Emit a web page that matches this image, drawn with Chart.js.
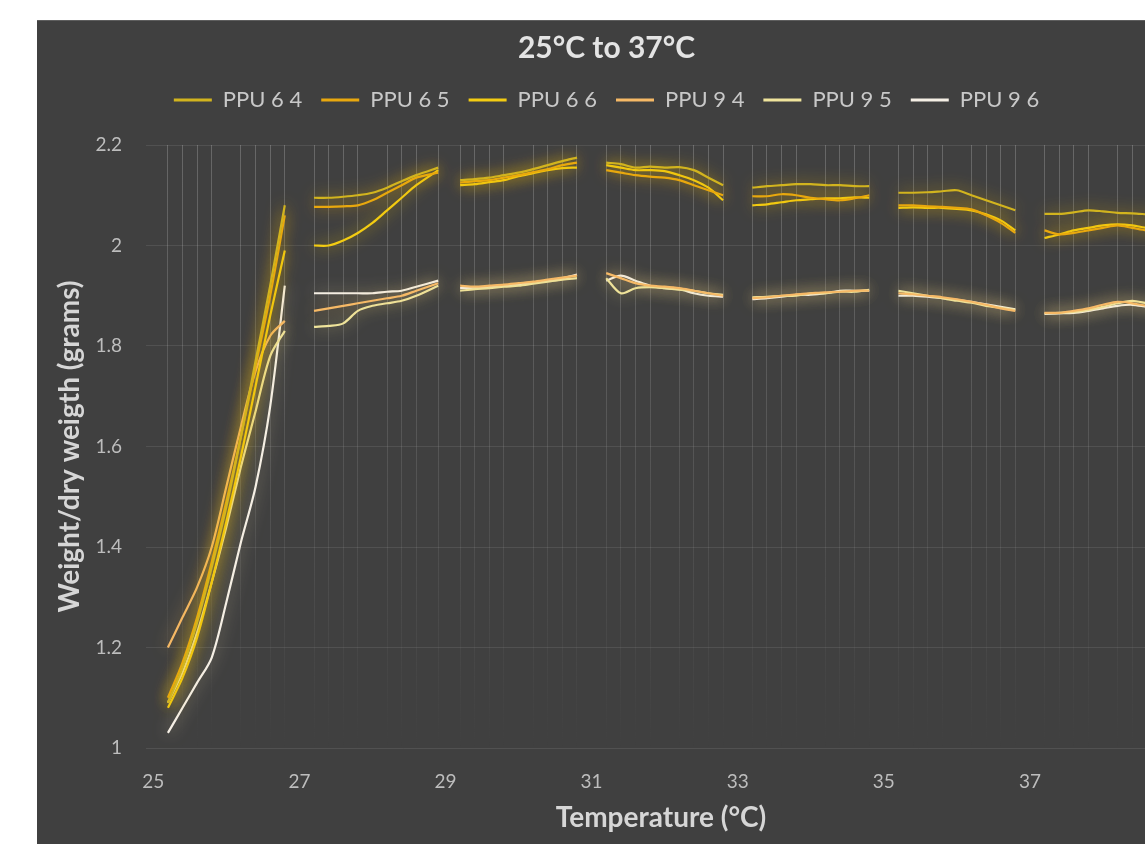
<!DOCTYPE html>
<html><head><meta charset="utf-8">
<script src="https://cdn.jsdelivr.net/npm/chart.js@4"></script>
<style>
html,body{margin:0;padding:0;background:#fff;overflow:hidden;width:1145px;height:844px;}
#wrap{position:absolute;left:37px;top:20px;width:1148px;height:830px;background:#404040;}
#topline{position:absolute;left:37px;top:20px;width:1148px;height:1px;background:#5e5e5e;z-index:2;}
canvas{display:block;}
</style></head><body>
<div id="wrap"><canvas id="c" width="1148" height="830"></canvas></div>
<div id="topline"></div>
<script>
const chartTitle = '25\u00B0C to 37\u00B0C';
const xTitle = 'Temperature (\u00B0C)';
const yTitle = 'Weight/dry weigth (grams)';
const seriesNames = ['PPU 6 4','PPU 6 5','PPU 6 6','PPU 9 4','PPU 9 5','PPU 9 6'];
const xTickLabels = [25,27,29,31,33,35,37];

const temps = [
25.2,25.4,25.6,25.8,26.0,26.2,26.4,26.6,26.8,
27.2,27.4,27.6,27.8,28.0,28.2,28.4,28.6,28.9,
29.2,29.4,29.6,29.8,30.0,30.2,30.4,30.6,30.8,
31.2,31.4,31.6,31.8,32.0,32.2,32.4,32.6,32.8,
33.2,33.4,33.6,33.8,34.0,34.2,34.4,34.6,34.8,
35.2,35.4,35.6,35.8,36.0,36.2,36.4,36.6,36.8,
37.2,37.4,37.6,37.8,38.0,38.2,38.4,38.6,38.8];

const ppu64 = [
1.09,1.16,1.25,1.36,1.48,1.62,1.77,1.92,2.08,
2.095,2.095,2.097,2.10,2.105,2.115,2.128,2.14,2.155,
2.13,2.132,2.135,2.14,2.145,2.152,2.16,2.168,2.175,
2.165,2.162,2.155,2.157,2.155,2.156,2.15,2.135,2.12,
2.115,2.118,2.12,2.122,2.122,2.12,2.12,2.118,2.118,
2.105,2.105,2.106,2.108,2.11,2.10,2.09,2.08,2.07,
2.063,2.063,2.066,2.07,2.068,2.065,2.064,2.062,2.06];
const ppu65 = [
1.10,1.17,1.26,1.37,1.49,1.62,1.76,1.90,2.06,
2.077,2.077,2.078,2.08,2.09,2.105,2.12,2.135,2.145,
2.125,2.128,2.13,2.135,2.14,2.146,2.152,2.16,2.165,
2.15,2.145,2.14,2.137,2.135,2.13,2.12,2.11,2.10,
2.098,2.098,2.102,2.10,2.095,2.092,2.09,2.094,2.10,
2.08,2.08,2.078,2.077,2.075,2.072,2.06,2.045,2.025,
2.03,2.022,2.025,2.03,2.035,2.04,2.035,2.03,2.03];
const ppu66 = [
1.08,1.14,1.22,1.33,1.45,1.58,1.72,1.86,1.99,
2.00,2.00,2.01,2.025,2.045,2.07,2.095,2.12,2.15,
2.12,2.122,2.126,2.13,2.138,2.144,2.15,2.154,2.155,
2.16,2.155,2.15,2.15,2.148,2.14,2.13,2.115,2.09,
2.08,2.082,2.086,2.09,2.092,2.094,2.094,2.096,2.095,
2.075,2.076,2.075,2.075,2.073,2.07,2.062,2.05,2.03,
2.015,2.022,2.03,2.035,2.04,2.042,2.04,2.035,2.032];
const ppu94 = [
1.20,1.26,1.32,1.40,1.52,1.64,1.75,1.82,1.85,
1.87,1.875,1.88,1.885,1.89,1.895,1.90,1.91,1.925,
1.92,1.918,1.92,1.922,1.925,1.928,1.932,1.936,1.94,
1.945,1.935,1.925,1.92,1.918,1.915,1.91,1.905,1.90,
1.895,1.897,1.90,1.903,1.905,1.907,1.908,1.91,1.91,
1.905,1.903,1.90,1.897,1.893,1.888,1.882,1.875,1.87,
1.866,1.866,1.87,1.875,1.882,1.888,1.885,1.88,1.878];
const ppu95 = [
1.09,1.15,1.23,1.33,1.44,1.56,1.67,1.78,1.83,
1.838,1.84,1.845,1.87,1.88,1.885,1.89,1.90,1.92,
1.91,1.913,1.915,1.918,1.92,1.924,1.928,1.932,1.935,
1.935,1.905,1.915,1.917,1.915,1.912,1.91,1.905,1.902,
1.897,1.898,1.90,1.90,1.905,1.905,1.908,1.908,1.912,
1.91,1.905,1.90,1.895,1.89,1.886,1.88,1.876,1.872,
1.865,1.866,1.868,1.872,1.878,1.885,1.89,1.885,1.88];
const ppu96 = [
1.03,1.08,1.13,1.18,1.29,1.41,1.52,1.68,1.92,
1.905,1.905,1.905,1.905,1.905,1.908,1.91,1.918,1.93,
1.915,1.916,1.918,1.92,1.922,1.926,1.93,1.935,1.942,
1.93,1.94,1.93,1.92,1.915,1.913,1.905,1.90,1.898,
1.893,1.895,1.898,1.902,1.902,1.905,1.91,1.91,1.91,
1.90,1.90,1.898,1.895,1.892,1.888,1.883,1.878,1.873,
1.864,1.865,1.866,1.87,1.875,1.88,1.882,1.878,1.875];

const seriesValues = [ppu64, ppu65, ppu66, ppu94, ppu95, ppu96];
const lineColors = ['#d2b41e','#e9a80e','#f3cc12','#f6b966','#efe49c','#f5efe5'];
const glowColors = ['rgba(235,185,0,0.85)','rgba(235,170,0,0.85)','rgba(240,200,0,0.85)',
                    'rgba(240,190,90,0.7)','rgba(240,225,140,0.7)','rgba(240,225,170,0.65)'];

function toPoints(vals){
  const pts = [];
  for (let i = 0; i < temps.length; i++) {
    pts.push({x: temps[i], y: vals[i]});
    if (i < temps.length - 1 && temps[i+1] - temps[i] > 0.3) {
      pts.push({x: (temps[i] + temps[i+1]) / 2, y: null});
    }
  }
  return pts;
}

const glowPlugin = {
  id: 'glow',
  beforeDatasetDraw(chart, args) {
    const ds = chart.data.datasets[args.index];
    const c = chart.ctx;
    c.save();
    c.shadowColor = ds.glowColor;
    c.shadowBlur = 15;
  },
  afterDatasetDraw(chart) { chart.ctx.restore(); }
};

let gradCache = null;
function vGridColor(ctx) {
  const chart = ctx.chart;
  const a = chart.chartArea;
  if (ctx.tick && Number.isInteger(Math.round(ctx.tick.value * 1000) / 1000)) return 'rgba(0,0,0,0)';
  if (!a) return 'rgba(120,120,120,0.4)';
  if (!gradCache || gradCache.top !== a.top || gradCache.bottom !== a.bottom) {
    const g = chart.ctx.createLinearGradient(0, a.top, 0, a.bottom);
    g.addColorStop(0, 'rgba(130,130,130,0.6)');
    g.addColorStop(0.55, 'rgba(130,130,130,0.3)');
    g.addColorStop(1, 'rgba(130,130,130,0.0)');
    gradCache = {top: a.top, bottom: a.bottom, g};
  }
  return gradCache.g;
}

const FONT = 'Lato, "Open Sans", sans-serif';

new Chart(document.getElementById('c'), {
  type: 'line',
  data: {
    datasets: seriesNames.map((name, i) => ({
      label: name,
      data: toPoints(seriesValues[i]),
      borderColor: lineColors[i],
      backgroundColor: lineColors[i],
      glowColor: glowColors[i],
      borderWidth: 2.2,
      pointRadius: 0,
      pointStyle: 'line',
      tension: 0.3,
      spanGaps: false,
      fill: false
    }))
  },
  options: {
    responsive: false,
    animation: false,
    devicePixelRatio: 1,
    layout: {padding: {left: 0, right: 9, top: 0, bottom: 0}},
    plugins: {
      title: {
        display: true, text: chartTitle, color: '#e4e4e4',
        font: {family: FONT, size: 30, weight: 'bold'},
        padding: {top: 10, bottom: 4}
      },
      subtitle: {
        display: true, text: ' ', weight: 500,
        font: {family: FONT, size: 10}, padding: {top: 0, bottom: 12}
      },
      legend: {
        display: true, position: 'top',
        labels: {
          color: '#c8c8c8', font: {family: FONT, size: 22},
          usePointStyle: true, pointStyleWidth: 38, padding: 19,
          generateLabels: (chart) => Chart.defaults.plugins.legend.labels.generateLabels(chart)
            .map(l => Object.assign(l, {lineWidth: 3}))
        }
      },
      tooltip: {enabled: false}
    },
    scales: {
      x: {
        type: 'linear', min: 24.9, max: 39,
        afterBuildTicks(scale) {
          const vals = Array.from(new Set(xTickLabels.concat(temps))).sort((a, b) => a - b);
          scale.ticks = vals.map(v => ({value: v}));
        },
        afterFit(scale) { scale.height = 102; },
        ticks: {
          autoSkip: false, maxRotation: 0, minRotation: 0, padding: 22,
          color: '#bdbdbd', font: {family: FONT, size: 19},
          callback: (v) => xTickLabels.includes(v) ? String(v) : ''
        },
        grid: {color: vGridColor, lineWidth: 1, drawTicks: false},
        border: {display: false},
        title: {
          display: true, text: xTitle, color: '#d6d6d6',
          font: {family: FONT, size: 28, weight: 'bold'},
          padding: {top: 0, bottom: 15}
        }
      },
      y: {
        min: 1, max: 2.2,
        afterFit(scale) { scale.width = 109; },
        ticks: {
          stepSize: 0.2, padding: 24, color: '#bdbdbd',
          font: {family: FONT, size: 19},
          callback: (v) => String(Math.round(v * 10) / 10)
        },
        grid: {color: 'rgba(255,255,255,0.09)', lineWidth: 1, drawTicks: false},
        border: {display: false},
        title: {
          display: true, text: yTitle, color: '#d6d6d6',
          font: {family: FONT, size: 28, weight: 'bold'},
          padding: {top: 16, bottom: 0}
        }
      }
    }
  },
  plugins: [glowPlugin]
});
</script>
</body></html>
